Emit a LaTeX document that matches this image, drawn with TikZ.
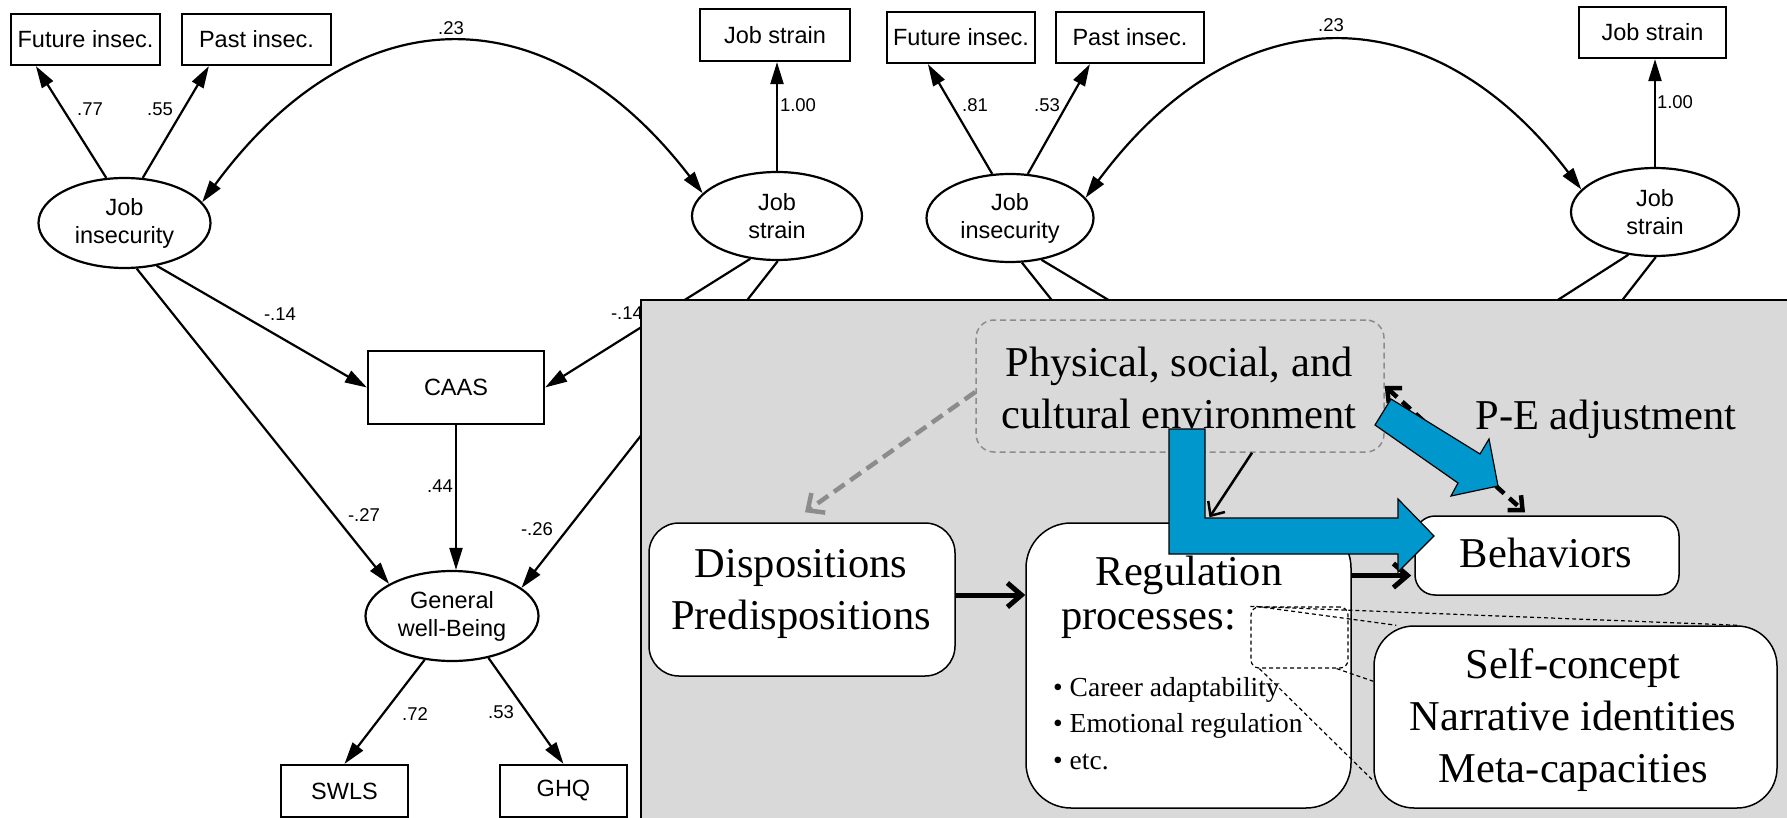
\documentclass[tikz,border=0pt]{standalone}
\usepackage{fontspec}
\setmainfont{Liberation Serif}
\newfontfamily\semfont{Liberation Sans}
\usetikzlibrary{arrows.meta,calc,shapes.geometric}
\definecolor{panelgray}{RGB}{217,217,217}
\definecolor{blockblue}{RGB}{0,152,204}
\definecolor{dashgray}{RGB}{140,140,140}
\begin{document}
\begin{tikzpicture}[x=1pt,y=-1pt,
  sembox/.style={draw, line width=2.2pt, inner sep=0pt, font=\semfont\fontsize{23.5}{28}\selectfont},
  semell/.style={ellipse, draw, line width=2.2pt, inner sep=0pt, align=center, font=\semfont\fontsize{23.5}{28}\selectfont},
  semlab/.style={font=\semfont\fontsize{18.5}{20}\selectfont, inner sep=0pt},
  semline/.style={line width=2.2pt},
  semarr/.style={line width=2.2pt, -{Triangle[length=22pt,width=13pt]}},
  semdarr/.style={line width=2.2pt, {Triangle[length=22pt,width=13pt]}-{Triangle[length=22pt,width=13pt]}},
  pbox/.style={draw, fill=white, line width=1.5pt, inner sep=0pt, rounded corners=#1},
  ptext/.style={font=\fontsize{42.5}{52}\selectfont, inner sep=0pt, align=center},
  btext/.style={font=\fontsize{27.5}{35}\selectfont, inner sep=0pt, anchor=west},
  barr/.style={line width=5pt, -{Straight Barb[length=14pt,width=24pt]}},
  thinarr/.style={line width=2.5pt, -{Straight Barb[length=11pt,width=20pt]}},
  grayarr/.style={line width=4.5pt, draw=dashgray, dash pattern=on 13pt off 7pt, -{Straight Barb[length=13pt,width=24pt]}},
  pearr/.style={line width=4.5pt, dash pattern=on 11pt off 7pt, {Straight Barb[length=11pt,width=20pt]}-{Straight Barb[length=11pt,width=20pt]}},
  callout/.style={line width=1.2pt, dash pattern=on 4pt off 3pt},
  blueblock/.style={fill=blockblue, draw=black, line width=1.2pt, line join=miter}
]
\useasboundingbox (0,0) rectangle (1787,818);
\fill[white] (0,0) rectangle (1787,818);

% ---------------- left SEM ----------------
\node[sembox, minimum width=149pt, minimum height=51pt] (fut) at (85.5,39.5) {Future insec.};
\node[sembox, minimum width=149pt, minimum height=51pt] (past) at (256.5,39.5) {Past insec.};
\node[sembox, minimum width=150pt, minimum height=52pt] (jsbox) at (775,35) {Job strain};
\node[semell, minimum width=172pt, minimum height=90pt] (ji) at (124.5,223) {Job\\insecurity};
\node[semell, minimum width=170pt, minimum height=88pt] (js) at (777,216) {Job\\strain};
\node[sembox, minimum width=176pt, minimum height=73pt] (caas) at (456,387.5) {CAAS};
\node[semell, minimum width=173pt, minimum height=90pt] (gwb) at (452,616) {General\\well-Being};
\node[sembox, minimum width=127pt, minimum height=52pt] (swls) at (344.5,791) {SWLS};
\node[sembox, minimum width=127pt, minimum height=52pt] (ghq) at (563.5,791) {GHQ};

\draw[semarr] (ji.112) -- ([xshift=26pt]fut.south west);
\draw[semarr] (ji.68) -- ([xshift=28pt]past.south west);
\draw[semarr] (js.north) -- (js.north |- jsbox.south);
\draw[semdarr] (ji.15) .. controls (357,-8) and (548,-8) .. (js.163);
\draw[semarr] (ji.-53) -- (caas.west);
\draw[semarr] (ji.-75) -- (gwb.153);
\draw[semarr] (js.-122) -- (caas.east);
\draw[semarr] (js.-89) -- (gwb.22);
\draw[semarr] (caas.south) -- (caas.south |- gwb.north);
\draw[semarr] (gwb.-122) -- (swls.north);
\draw[semarr] (gwb.-49) -- (ghq.north);

\node[semlab] (l77) at (90,109) {.77};
\node[semlab] (l55) at (160,109) {.55};
\node[semlab] (l23) at (451,28) {.23};
\node[semlab] (l100) at (798,105) {1.00};
\node[semlab] (l14a) at (280,314) {-.14};
\node[semlab] (l14b) at (627,313) {-.14};
\node[semlab] (l44) at (440,486) {.44};
\node[semlab] (l27) at (364,515) {-.27};
\node[semlab] (l26) at (537,529) {-.26};
\node[semlab] (l72) at (415,714) {.72};
\node[semlab] (l53) at (501,712) {.53};

% ---------------- right SEM (mostly hidden) ----------------
\node[sembox, minimum width=148pt, minimum height=51pt] (fut2) at (961,37.5) {Future insec.};
\node[sembox, minimum width=148pt, minimum height=51pt] (past2) at (1130,37.5) {Past insec.};
\node[sembox, minimum width=147pt, minimum height=51pt] (jsbox2) at (1652.5,32.5) {Job strain};
\node[semell, minimum width=167pt, minimum height=88pt] (ji2) at (1010,218) {Job\\insecurity};
\node[semell, minimum width=168pt, minimum height=88pt] (js2) at (1655,212) {Job\\strain};
\coordinate (c2w) at (1253.5,387);
\coordinate (c2e) at (1422,387);
\coordinate (g2a) at (1274.5,580);
\coordinate (g2b) at (1402,583);

\draw[semarr] (ji2.112) -- ([xshift=42pt]fut2.south west);
\draw[semarr] (ji2.68) -- ([xshift=35pt]past2.south west);
\draw[semarr] (js2.north) -- (js2.north |- jsbox2.south);
\draw[semdarr] (ji2.15) .. controls (1238,-8) and (1431,-8) .. (js2.163);
\draw[semline] (ji2.-53) -- (c2w);
\draw[semline] (ji2.-75) -- (g2a);
\draw[semline] (js2.-122) -- (c2e);
\draw[semline] (js2.-89) -- (g2b);

\node[semlab] (l81) at (975,105) {.81};
\node[semlab] (l53b) at (1047,105) {.53};
\node[semlab] (l23b) at (1331,25) {.23};
\node[semlab] (l100b) at (1675,102) {1.00};

% ---------------- gray panel ----------------
\fill[panelgray] (641,300) rectangle (1787,818);
\draw[line width=2.5pt] (641,818) -- (641,300) -- (1787,300);

\node[draw=dashgray, line width=1.5pt, dash pattern=on 6pt off 4pt, rounded corners=18pt, inner sep=0pt,
      minimum width=408pt, minimum height=132pt] (phys) at (1180,386) {};
\node[ptext] (physT) at (1179,388) {Physical, social, and\\cultural environment};
\node[ptext] (peT) at (1606,419) {P-E adjustment};

\node[pbox=30pt, minimum width=306pt, minimum height=153pt] (disp) at (802,599.5) {};
\node[ptext] (dispT) at (801,594) {Dispositions\\Predispositions};

\node[pbox=45pt, minimum width=325pt, minimum height=285pt] (reg) at (1188.5,665.5) {};
\node[ptext] (regT1) at (1189,575) {Regulation};
\node[ptext, anchor=west] (regT2) at (1061,624) {processes:};
\node[btext] (b1) at (1053,690) {• Career adaptability};
\node[btext] (b2) at (1053,726) {• Emotional regulation};
\node[btext] (b3) at (1053,762) {• etc.};

\node[pbox=20pt, minimum width=264pt, minimum height=79pt] (beh) at (1547,555.5) {};
\node[ptext] (behT) at (1546,553) {Behaviors};

\node[pbox=40pt, minimum width=403pt, minimum height=182pt] (self) at (1575.5,717) {};
\node[ptext] (selfT) at (1573,720) {Self-concept\\Narrative identities\\Meta-capacities};

\node[draw, line width=1.2pt, dash pattern=on 4pt off 3pt, rounded corners=8pt, inner sep=0pt,
      minimum width=97pt, minimum height=61pt] (zoomb) at (1299.5,637.5) {};

% arrows in panel
\draw[grayarr] ([yshift=-6pt]phys.west) -- ([xshift=3pt,yshift=10pt]disp.north);
\draw[barr] (disp.east |- 0,595) -- (reg.west |- 0,595);
\path ($(beh.west)+(0,20)$) coordinate (rbEnd);
\draw[barr] (rbEnd -| reg.east) -- ([xshift=-3pt]rbEnd);
\draw[thinarr] ([xshift=72pt]phys.south) -- ([xshift=21pt,yshift=5pt]reg.north);
\draw[pearr] (phys.east) -- ([xshift=-22pt,yshift=3pt]beh.north);

% callout lines
\draw[callout] (zoomb.north west) -- ([xshift=-40pt]self.north east);
\draw[callout] ([xshift=6pt]zoomb.north west) -- ([xshift=23pt]self.north west);
\draw[callout] ([xshift=-12pt]zoomb.south east) -- ([yshift=-56pt]self.north west);
\draw[callout] ([xshift=9pt]zoomb.south west) -- ([yshift=28pt]self.south west);

% blue block arrows
\draw[blueblock] (1169,429) -- (1205,429) -- (1205,518) -- (1398,518) -- (1398,499) -- (1434,536)
  -- (1398,572) -- (1398,554) -- (1169,554) -- cycle;
\draw[blueblock] (1375,425) -- (1391,399) -- (1480,454) -- (1489,439) -- (1498,486)
  -- (1451,496) -- (1458,483) -- cycle;
\end{tikzpicture}
\end{document}
